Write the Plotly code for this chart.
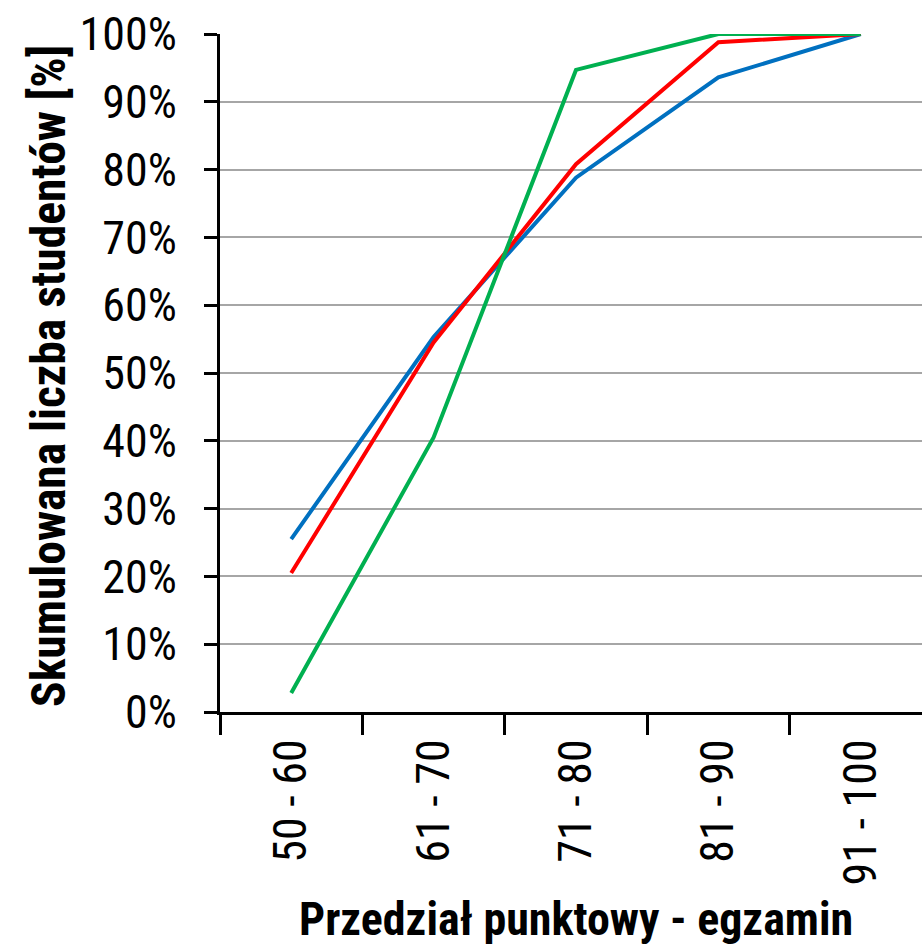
import plotly.graph_objects as go

categories = ["50 - 60", "61 - 70", "71 - 80", "81 - 90", "91 - 100"]
blue_vals = [0.255, 0.553, 0.788, 0.936, 1.0]
red_vals = [0.205, 0.545, 0.808, 0.988, 1.0]
green_vals = [0.028, 0.405, 0.947, 1.0, 1.0]
y_ticks = [i / 10 for i in range(11)]
y_tick_labels = [f"{i*10}%" for i in range(11)]

FONT = "Roboto Condensed, Liberation Sans Narrow, Arial Narrow, Liberation Sans, sans-serif"

fig = go.Figure()
for name, vals, col in [("Seria 1", blue_vals, "#0070C0"),
                        ("Seria 2", red_vals, "#FF0000"),
                        ("Seria 3", green_vals, "#00B050")]:
    fig.add_trace(go.Scatter(x=categories, y=vals, mode="lines", name=name,
                             line=dict(color=col, width=4), showlegend=False))

fig.update_layout(
    width=922, height=947,
    margin=dict(l=220, r=0, t=34, b=235),
    paper_bgcolor="white", plot_bgcolor="white",
    font=dict(family=FONT, size=46, color="black"),
)
fig.update_xaxes(
    type="category", range=[-0.5, 4.43],
    showline=True, linecolor="black", linewidth=3,
    ticks="outside", tickson="boundaries", ticklen=20, tickwidth=3, tickcolor="black",
    tickangle=-90, ticklabelstandoff=6,
    tickfont=dict(family=FONT, size=46, color="black"),
    showgrid=False, zeroline=False,
)
fig.update_yaxes(
    range=[0, 1], tickvals=y_ticks, ticktext=y_tick_labels,
    showline=True, linecolor="black", linewidth=3,
    ticks="outside", ticklen=13, tickwidth=3, tickcolor="black",
    ticklabelstandoff=18,
    tickfont=dict(family=FONT, size=46, color="black"),
    showgrid=True, gridcolor="#A6A6A6", gridwidth=2, zeroline=False,
)
fig.add_annotation(
    text="<b>Skumulowana liczba studentów [%]</b>", textangle=-90,
    xref="paper", yref="paper", x=0, y=0.5, xanchor="center", yanchor="middle",
    xshift=-171, yshift=-3, showarrow=False,
    font=dict(family=FONT, size=47.5, color="black"),
)
fig.add_annotation(
    text="<b>Przedział punktowy - egzamin</b>",
    xref="x", yref="paper", x="71 - 80", y=0, xanchor="center", yanchor="middle",
    yshift=-207, showarrow=False,
    font=dict(family=FONT, size=46, color="black"),
)
fig.write_html("out.html")
